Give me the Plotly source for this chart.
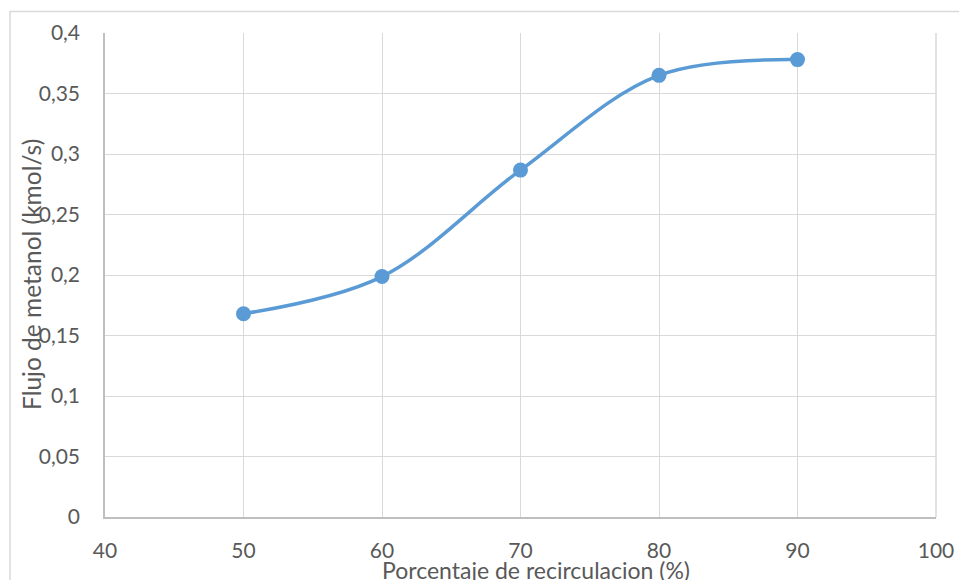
import plotly.graph_objects as go

recirculacion = [50, 60, 70, 80, 90]
flujo_metanol = [0.168, 0.1987, 0.2867, 0.365, 0.378]

x_ticks = [40, 50, 60, 70, 80, 90, 100]
y_ticks = [0, 0.05, 0.1, 0.15, 0.2, 0.25, 0.3, 0.35, 0.4]
y_tick_labels = ["0", "0,05", "0,1", "0,15", "0,2", "0,25", "0,3", "0,35", "0,4"]
x_title = "Porcentaje de recirculacion (%)"
y_title = "Flujo de metanol (kmol/s)"

FONT = "Lato"
TICK_COLOR = "#595959"

# plot area in window pixels: x 105..936, y 33..517
PX_L, PX_R, PX_T, PX_B = 105, 936, 33, 517


def px_x(px):
    return (px - PX_L) / (PX_R - PX_L)


def px_y(py):
    return (PX_B - py) / (PX_B - PX_T)


fig = go.Figure()
fig.add_trace(go.Scatter(
    x=recirculacion, y=flujo_metanol,
    mode="lines+markers",
    line=dict(color="#5b9bd5", width=3.5, shape="spline", smoothing=1),
    marker=dict(color="#5b9bd5", size=15),
    showlegend=False,
    cliponaxis=False,
))

fig.update_layout(
    width=959, height=580,
    margin=dict(l=105, r=23, t=33, b=63, autoexpand=False),
    paper_bgcolor="white",
    plot_bgcolor="white",
    separators=",.",
    font=dict(family=FONT, size=21, color=TICK_COLOR),
    xaxis=dict(
        range=[40, 100], tickvals=x_ticks, ticktext=[str(v) for v in x_ticks],
        showgrid=True, gridcolor="#d9d9d9", gridwidth=1.2,
        showline=True, linecolor="#bfbfbf", linewidth=1.5,
        zeroline=False, ticks="outside", ticklen=14, tickcolor="rgba(0,0,0,0)",
        tickfont=dict(family=FONT, size=21, color=TICK_COLOR),
        automargin=False,
        fixedrange=True,
    ),
    yaxis=dict(
        range=[0, 0.4], tickvals=y_ticks, ticktext=y_tick_labels,
        showgrid=True, gridcolor="#d9d9d9", gridwidth=1.2,
        showline=True, linecolor="#bfbfbf", linewidth=1.5,
        zeroline=False, ticks="outside", ticklen=19, tickcolor="rgba(0,0,0,0)",
        tickfont=dict(family=FONT, size=21, color=TICK_COLOR),
        automargin=False,
        fixedrange=True,
    ),
    shapes=[
        dict(type="rect", xref="paper", yref="paper",
             x0=px_x(10), x1=px_x(975),
             y0=px_y(600), y1=px_y(11.5),
             line=dict(color="#d9d9d9", width=1.5), fillcolor="rgba(0,0,0,0)", layer="below"),
        dict(type="line", xref="paper", yref="paper", x0=1, x1=1, y0=0, y1=1,
             line=dict(color="#d9d9d9", width=1.5)),
    ],
    annotations=[
        dict(text=x_title, xref="paper", yref="paper",
             x=px_x(535.5), y=px_y(570),
             showarrow=False, xanchor="center", yanchor="middle",
             font=dict(family=FONT, size=23, color=TICK_COLOR)),
        dict(text=y_title, xref="paper", yref="paper",
             x=px_x(31), y=px_y(275), textangle=-90,
             showarrow=False, xanchor="center", yanchor="middle",
             font=dict(family=FONT, size=24.5, color=TICK_COLOR)),
    ],
)

fig.write_html(
    "out.html",
    config={"displayModeBar": False},
    post_script="document.body.style.margin='0';document.body.style.overflow='hidden';",
)
